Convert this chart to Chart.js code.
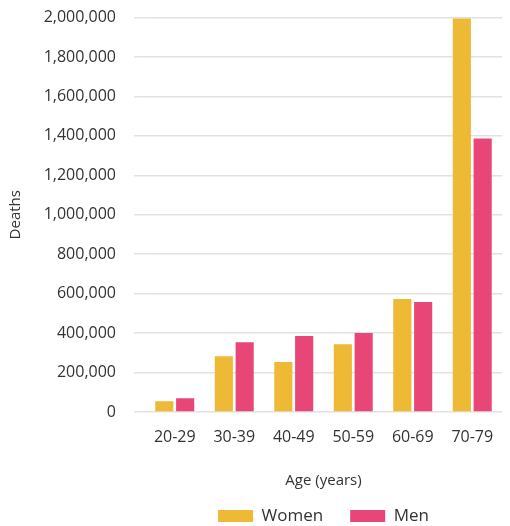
<!DOCTYPE html>
<html>
<head>
<meta charset="utf-8">
<script src="https://cdn.jsdelivr.net/npm/chart.js@4"></script>
<style>
  html, body { margin: 0; padding: 0; background: #fff; }
  #wrap { width: 510px; height: 526px; position: relative; }
</style>
</head>
<body>
<div id="wrap"><canvas id="grafico"></canvas></div>
<script>
// datos
var edades = ["20-29", "30-39", "40-49", "50-59", "60-69", "70-79"];
var mujeres = [54000, 283000, 253000, 344000, 573000, 1995000];
var hombres = [70000, 354000, 385000, 400000, 558000, 1386000];
var ticksY = [0, 200000, 400000, 600000, 800000, 1000000, 1200000, 1400000, 1600000, 1800000, 2000000];

var fuente = "'Open Sans', 'Noto Sans', sans-serif";
var texto = "#333333";

var ctx = document.getElementById("grafico").getContext("2d");
var myChart = new Chart(ctx, {
    type: "bar",
    data: {
        labels: edades,
        datasets: [
            {
                label: "Women",
                data: mujeres,
                backgroundColor: "#EEB934",
                categoryPercentage: 0.7,
                barPercentage: 0.87,
            },
            {
                label: "Men",
                data: hombres,
                backgroundColor: "#E84677",
                categoryPercentage: 0.7,
                barPercentage: 0.87,
            },
        ],
    },
    options: {
        responsive: true,
        maintainAspectRatio: false,
        animation: false,
        layout: { padding: { top: 0, right: 8, left: 0, bottom: -8.5 } },
        plugins: {
            tooltip: { enabled: false },
            legend: {
                position: "bottom",
                fullSize: false,
                labels: {
                    boxWidth: 35,
                    boxHeight: 12,
                    padding: 27,
                    color: texto,
                    font: { family: fuente, size: 17 },
                },
            },
        },
        scales: {
            x: {
                grid: { display: false },
                border: { display: false },
                ticks: { color: texto, font: { family: fuente, size: 16 }, padding: 8 },
                title: {
                    display: true,
                    text: "Age (years)",
                    color: texto,
                    font: { family: fuente, size: 15 },
                    padding: { top: 16.8, bottom: -9.5 },
                },
            },
            y: {
                min: 0,
                max: 2000000,
                afterBuildTicks: function (axis) {
                    axis.ticks = ticksY.map(function (v) { return { value: v }; });
                },
                afterFit: function (axis) {
                    // ancho fijo del eje y margen superior como en el original
                    axis.width = 145;
                    axis.paddingTop = 17.5;
                    axis.paddingBottom = 10;
                },
                border: { display: false },
                grid: { color: "#e2e2e2", lineWidth: 1.5, drawTicks: true, tickLength: 11 },
                ticks: {
                    color: texto,
                    font: { family: fuente, size: 16 },
                    padding: 18,
                    callback: function (value) {
                        return value.toLocaleString("en-US");
                    },
                },
                title: {
                    display: true,
                    text: "Deaths",
                    color: texto,
                    font: { family: fuente, size: 15 },
                    padding: { top: 7, bottom: 0 },
                },
            },
        },
    },
});
</script>
</body>
</html>
